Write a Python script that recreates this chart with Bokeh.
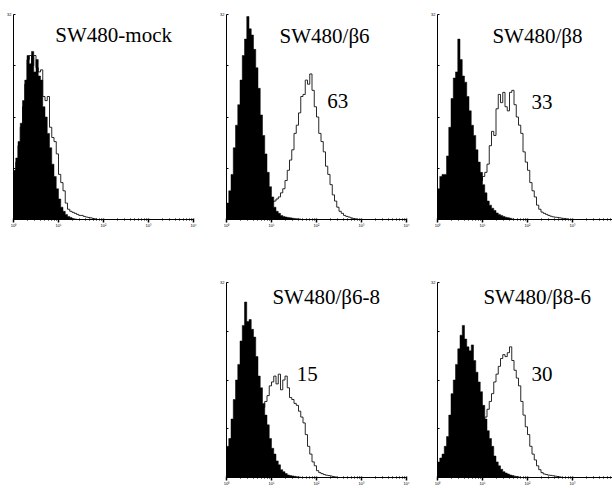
import numpy as np
from bokeh.plotting import figure
from bokeh.models import Range1d, FixedTicker, Label, Spacer
from bokeh.layouts import column, row
from bokeh.embed import file_html
from bokeh.resources import INLINE

# histogram channel width, in decades of fluorescence (log axis 10^0..10^4)
BIN = 0.05

titles = ["SW480-mock", "SW480/β6", "SW480/β8", "SW480/β6-8", "SW480/β8-6"]
positive_pct = [None, "63", "33", "15", "30"]

x_major = [0, 1, 2, 3, 4]
x_labels = ["10⁰", "10¹", "10²", "10³", "10⁴"]
y_top = [100]
y_inner = [0, 25, 50, 75]
y_top_label = "32"

# relative counts (% of axis max), one value per channel starting at 10^0
mock_ctrl = [24, 30, 38, 47, 58, 68, 80, 76, 82, 72, 78, 70, 68, 55, 50, 42, 35, 27, 21, 15,
             10, 6, 4, 2.5, 1.5, 1, 0.5, 0.3]
mock_stain = [20, 28, 36, 45, 55, 66, 78, 80, 75, 80, 74, 72, 73, 60, 58, 60, 45, 40, 38, 32,
              22, 18, 14, 8, 5, 4, 3.5, 3, 2.5, 2, 2, 1.5, 1.2, 1, 0.8, 0.5, 0.3]

b6_ctrl = [8, 14, 22, 35, 46, 56, 68, 80, 88, 99, 93, 90, 83, 74, 64, 51, 41, 32, 23, 16,
           11, 6, 4, 3, 2, 1.5, 1.2, 1, 0.8, 0.6, 0.5, 0.4, 0.3]
b6_stain = [0.5, 1, 1.5, 2, 2.5, 3, 3, 3.5, 4, 4, 4.5, 5, 5, 5.5, 6, 6, 6.5, 7, 7.5, 8,
            8.5, 9, 10, 11, 13, 15, 19, 24, 29, 34, 42, 46, 52, 60, 61, 68, 66, 71, 63, 55,
            50, 42, 38, 33, 26, 22, 17, 12, 9, 6, 4, 3, 2, 1.5, 1.2, 0.8, 0.5, 0.3]

b8_ctrl = [15, 21, 22, 22, 31, 45, 59, 69, 72, 88, 78, 70, 67, 60, 53, 46, 41, 34, 28, 23,
           17, 13, 9, 7, 5.5, 4.4, 3.2, 2.5, 2, 1.5, 1.1, 0.9, 0.6, 0.3]
b8_stain = [1, 1.5, 2, 2.5, 3, 4, 5, 6, 7, 8, 9, 10, 11, 12, 13, 14, 15, 16, 18, 19,
            21, 23, 27, 36, 43, 41, 54, 61, 57, 62, 55, 53, 62, 63, 56, 50, 46, 42, 33, 28,
            24, 18, 14, 11, 7, 5, 3.6, 3, 2.5, 2, 1.6, 1.3, 1.1, 1, 0.8, 0.6, 0.5, 0.3]

b68_ctrl = [16, 20, 30, 40, 50, 58, 70, 78, 90, 80, 81, 76, 72, 62, 52, 46, 38, 32, 27, 20,
            15, 12, 8.5, 6.5, 4, 3, 2, 1.3, 1, 0.8, 0.6, 0.4, 0.3]
b68_stain = [10, 14, 20, 27, 33, 38, 42, 45, 46, 46, 45, 43, 41, 39, 38, 37, 36, 39, 42, 47,
             49, 52, 48, 53, 45, 50, 52, 46, 41, 40, 38, 37, 34, 31, 28, 22, 16, 12, 8, 6,
             3.5, 2.5, 2, 1.5, 1.2, 1, 0.8, 0.5, 0.3]

b86_ctrl = [8, 10, 12, 16, 21, 32, 43, 50, 58, 66, 73, 78, 71, 67, 65, 68, 60, 54, 49, 44,
            37, 30, 24, 20, 16, 11, 8, 6, 4.2, 3, 2.3, 1.8, 1.3, 1, 0.7, 0.5, 0.3]
b86_stain = [2, 3, 4, 5, 6, 7, 8, 9, 10, 11, 12, 13, 14, 15, 16, 17, 19, 21, 23, 25,
             28, 31, 35, 39, 43, 49, 53, 57, 61, 63, 62, 64, 67, 60, 55, 51, 47, 39, 32, 26,
             22, 16, 12, 9, 6, 4, 2.5, 1.8, 1.5, 1.2, 1.1, 0.9, 0.7, 0.5, 0.3]

SERIF = "Liberation Serif"
minor = [k + np.log10(m) for k in range(4) for m in range(2, 10)]


def step_outline(v):
    v = np.asarray(v, dtype=float)
    edges = np.arange(len(v) + 1) * BIN
    xs = np.repeat(edges, 2)
    ys = np.concatenate([[0.0], np.repeat(v, 2), [0.0]])
    return xs, ys


def panel(ctrl, stain, title, pct, title_xy, pct_xy, frame_w, x_end,
          b_left, b_right, b_top, b_bottom, frame_h=None, total_h=None):
    kw = dict(frame_width=frame_w)
    if frame_h is not None:
        kw["frame_height"] = frame_h
    else:
        kw["height"] = total_h
    p = figure(output_backend="svg", toolbar_location=None,
               x_range=Range1d(0, x_end), y_range=Range1d(0, 100),
               min_border_left=b_left, min_border_right=b_right,
               min_border_top=b_top, min_border_bottom=b_bottom, **kw)
    p.outline_line_color = None
    p.background_fill_color = "white"
    p.border_fill_color = "white"
    p.xgrid.visible = False
    p.ygrid.visible = False

    # open (stained) histogram under the filled control histogram
    xs2, ys2 = step_outline(stain)
    p.line(xs2, ys2, line_color="#111111", line_width=0.9)
    xs, ys = step_outline(ctrl)
    p.patch(xs, ys, fill_color="black", line_color="black", line_width=0.5)

    xa = p.xaxis[0]
    xa.ticker = FixedTicker(ticks=x_major, minor_ticks=minor)
    xa.major_label_overrides = {t: lab for t, lab in zip(x_major, x_labels)}
    xa.axis_line_color = "black"
    xa.axis_line_width = 1
    xa.major_tick_in = 1
    xa.major_tick_out = 3
    xa.minor_tick_in = 1
    xa.minor_tick_out = 1
    xa.major_tick_line_width = 1.5
    xa.major_label_standoff = 0
    xa.major_label_text_font_size = "4px"
    xa.major_label_text_color = "black"

    ya = p.yaxis[0]
    ya.ticker = FixedTicker(ticks=y_top, minor_ticks=y_inner)
    ya.major_label_overrides = {100: y_top_label}
    ya.axis_line_color = "black"
    ya.axis_line_width = 1
    ya.major_tick_in = 2
    ya.major_tick_out = 0
    ya.minor_tick_in = 2
    ya.minor_tick_out = 0
    ya.minor_tick_line_color = "black"
    ya.major_label_standoff = 2
    ya.major_label_text_font_size = "4px"
    ya.major_label_text_color = "black"

    p.add_layout(Label(x=title_xy[0], y=title_xy[1], text=title, text_font=SERIF,
                       text_font_size="21px", text_color="black",
                       text_baseline="alphabetic"))
    if pct:
        p.add_layout(Label(x=pct_xy[0], y=pct_xy[1], text=pct, text_font=SERIF,
                           text_font_size="21px", text_color="black",
                           text_baseline="alphabetic"))
    return p


p1 = panel(mock_ctrl, mock_stain, titles[0], positive_pct[0], (0.93, 89.8), None,
           180, 4, 13, 17, 14, 31, frame_h=205)
p2 = panel(b6_ctrl, b6_stain, titles[1], positive_pct[1], (1.18, 89.3), (2.24, 58.0),
           180, 4, 16, 15, 14, 31, frame_h=205)
p3 = panel(b8_ctrl, b8_stain, titles[2], positive_pct[2], (1.22, 89.3), (2.09, 57.1),
           175, 175 / 45, 16, 0, 14, 31, frame_h=205)
p4 = panel(b68_ctrl, b68_stain, titles[3], positive_pct[3], (1.02, 92.8), (1.56, 53.3),
           180, 4, 16, 15, 32, 3, total_h=238)
p5 = panel(b86_ctrl, b86_stain, titles[4], positive_pct[4], (1.02, 92.8), (2.09, 53.3),
           175, 175 / 45, 16, 0, 32, 3, total_h=238)

layout = column(row(p1, p2, p3), row(Spacer(width=210, height=238), p4, p5))

with open("out.html", "w") as f:
    f.write(file_html(layout, INLINE))
